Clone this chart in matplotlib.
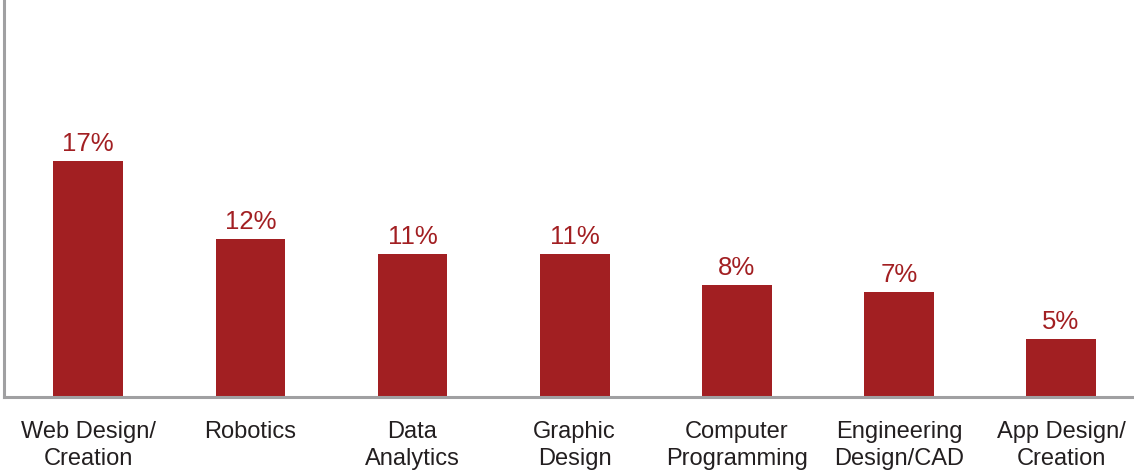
import matplotlib.pyplot as plt

# data
categories = ["Web Design/\nCreation", "Robotics", "Data\nAnalytics", "Graphic\nDesign",
              "Computer\nProgramming", "Engineering\nDesign/CAD", "App Design/\nCreation"]
values = [17.0, 11.4, 10.3, 10.3, 8.1, 7.6, 4.2]
value_labels = ["17%", "12%", "11%", "11%", "8%", "7%", "5%"]

bar_color = "#A21F22"
axis_color = "#A0A0A2"
text_color = "#231F20"

plt.rcParams['font.family'] = ['Liberation Sans', 'DejaVu Sans']

fig = plt.figure(figsize=(11.34, 4.70), dpi=100)
ax = fig.add_axes([4 / 1134, 73 / 470, 1130 / 1134, 397 / 470])

x = list(range(len(categories)))
bars = ax.bar(x, values, width=0.43, color=bar_color, zorder=1)

for b, lab in zip(bars, value_labels):
    ax.annotate(lab, (b.get_x() + b.get_width() / 2, b.get_height()),
                xytext=(0, 5), textcoords="offset pixels",
                ha="center", va="bottom", fontsize=18.5, color=bar_color)

ax.set_xlim(-0.52, 6.45)
ax.set_ylim(0, 28.6)
ax.set_yticks([])
ax.set_xticks(x)
ax.set_xticklabels(categories, fontsize=17, color=text_color, linespacing=1.3)
ax.tick_params(axis="x", length=0, pad=17)

for side in ["top", "right"]:
    ax.spines[side].set_visible(False)
for side in ["left", "bottom"]:
    ax.spines[side].set_color(axis_color)
    ax.spines[side].set_linewidth(2.2)
    ax.spines[side].set_zorder(3)

fig.savefig("out.png", dpi=100)
